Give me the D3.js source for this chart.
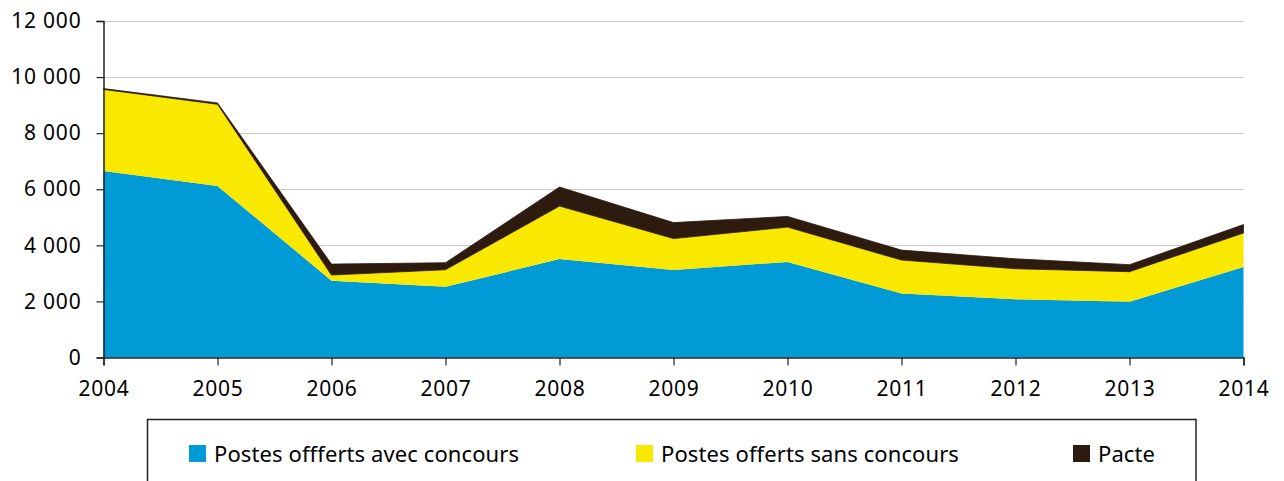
<!DOCTYPE html>
<html>
<head>
<meta charset="utf-8">
<script src="https://cdn.jsdelivr.net/npm/d3@7"></script>
<style>
	body { margin: 0; background: #fff; }
	svg { display: block; font-family: "Noto Sans", "Open Sans", sans-serif; }
</style>
</head>
<body>
<svg id="chart" width="1284" height="481"></svg>
<script>
'use strict';

var years = [2004, 2005, 2006, 2007, 2008, 2009, 2010, 2011, 2012, 2013, 2014];
var avecConcours = [6650, 6120, 2740, 2520, 3510, 3120, 3410, 2280, 2080, 1990, 3230];
var sansConcours = [2910, 2910, 200, 610, 1890, 1120, 1240, 1195, 1085, 1070, 1210];
var pacte = [30, 50, 390, 250, 680, 570, 380, 355, 355, 250, 300];
var yTicks = [0, 2000, 4000, 6000, 8000, 10000, 12000];

var legendLabels = ['Postes offferts avec concours', 'Postes offerts sans concours', 'Pacte'];
var colors = ['#009ad6', '#f9e800', '#2d1b0f'];

var rows = years.map(function(yr, i) {
	return { year: yr, a: avecConcours[i], b: sansConcours[i], c: pacte[i] };
});

var svg = d3.select('#chart');
var plotLeft = 103.5, plotRight = 1243.5, plotTop = 21, plotBottom = 357.5;

var x = d3.scaleLinear().domain([2004, 2014]).range([plotLeft, plotRight]);
var y = d3.scaleLinear().domain([0, 12000]).range([plotBottom, plotTop]);

// grid
svg.append('g')
	.selectAll('line')
	.data(yTicks.filter(function(d) { return d > 0; }))
	.enter()
	.append('line')
	.attr('x1', plotLeft).attr('x2', plotRight)
	.attr('y1', function(d) { return Math.round(y(d)) + 0.5; })
	.attr('y2', function(d) { return Math.round(y(d)) + 0.5; })
	.attr('stroke', '#c8c8c8')
	.attr('stroke-width', 1.2);

var stack = d3.stack().keys(['a', 'b', 'c']);
var area = d3.area()
	.x(function(d) { return x(d.data.year); })
	.y0(function(d) { return y(d[0]); })
	.y1(function(d) { return y(d[1]); });

svg.append('g')
	.selectAll('path')
	.data(stack(rows))
	.enter()
	.append('path')
	.attr('d', area)
	.attr('fill', function(d, i) { return colors[i]; })
	.attr('stroke', function(d, i) { return i === 2 ? colors[i] : 'none'; })
	.attr('stroke-width', 0.8);

// axes
var yAxis = svg.append('g')
	.attr('transform', 'translate(' + plotLeft + ',0)')
	.call(d3.axisLeft(y).tickValues(yTicks).tickSize(7).tickPadding(15)
		.tickFormat(function(d) { return d3.format(',')(d).replace(/,/g, ' '); }));

var xAxis = svg.append('g')
	.attr('transform', 'translate(0,' + plotBottom + ')')
	.call(d3.axisBottom(x).tickValues(years).tickSize(8).tickPadding(16)
		.tickFormat(d3.format('d')));

[yAxis, xAxis].forEach(function(g) {
	g.attr('font-family', null).attr('font-size', null);
	g.select('.domain').attr('stroke', '#222').attr('stroke-width', 1.5);
	g.selectAll('.tick line').attr('stroke', '#222').attr('stroke-width', 1.2);
	g.selectAll('text').attr('fill', '#000')
		.style('font-size', '21px')
		.style('letter-spacing', '0.8px');
});

// legend
var legend = svg.append('g');
legend.append('rect')
	.attr('x', 147.5).attr('y', 419.5)
	.attr('width', 1048.5).attr('height', 80)
	.attr('fill', 'none')
	.attr('stroke', '#222')
	.attr('stroke-width', 1.5);

var legendX = [189, 636, 1073];
var items = legend.selectAll('g.item')
	.data(legendLabels)
	.enter()
	.append('g')
	.attr('class', 'item')
	.attr('transform', function(d, i) { return 'translate(' + legendX[i] + ',0)'; });

items.append('rect')
	.attr('x', 0).attr('y', 445)
	.attr('width', 17).attr('height', 17)
	.attr('fill', function(d, i) { return colors[i]; });

items.append('text')
	.attr('x', 25).attr('y', 462)
	.attr('fill', '#000')
	.style('font-size', '22px')
	.style('letter-spacing', '0.1px')
	.text(function(d) { return d; });
</script>
</body>
</html>
